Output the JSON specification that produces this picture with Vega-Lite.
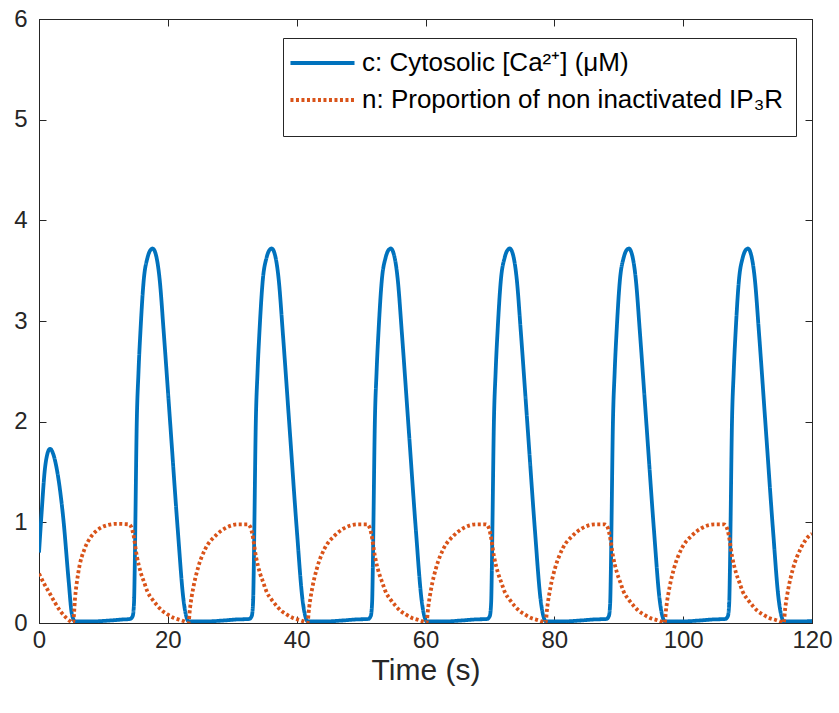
{
  "$schema": "https://vega.github.io/schema/vega-lite/v6.json",
  "width": 773,
  "height": 604,
  "autosize": {"type": "none"},
  "padding": {"left": 39, "top": 19, "right": 27, "bottom": 90},
  "background": "white",
  "config": {
    "font": "Liberation Sans",
    "view": {"stroke": "#262626", "strokeWidth": 1},
    "axis": {
      "domainColor": "#262626",
      "tickColor": "#262626",
      "labelColor": "#262626",
      "titleColor": "#262626",
      "grid": false,
      "labelFont": "Liberation Sans",
      "titleFont": "Liberation Sans",
      "labelFontSize": 24,
      "titleFontSize": 30,
      "titleFontWeight": "normal",
      "tickSize": -7,
      "domainWidth": 1,
      "tickWidth": 1,
      "labelFlush": false,
      "labelOverlap": false
    }
  },
  "data": {
    "values": [
      {"t": 0, "v": 0.70, "s": "c"}, {"t": 0.4, "v": 1.09, "s": "c"}, {"t": 0.9, "v": 1.52, "s": "c"}, {"t": 1.3, "v": 1.68, "s": "c"}, {"t": 1.7, "v": 1.73, "s": "c"}, {"t": 2.2, "v": 1.68, "s": "c"}, {"t": 2.7, "v": 1.55, "s": "c"}, {"t": 3.8, "v": 1.02, "s": "c"}, {"t": 4.6, "v": 0.42, "s": "c"}, {"t": 5.1, "v": 0.09, "s": "c"}, {"t": 5.6, "v": 0.015, "s": "c"}, {"t": 8, "v": 0.015, "s": "c"}, {"t": 11, "v": 0.025, "s": "c"}, {"t": 13, "v": 0.035, "s": "c"},

      {"t": 14.15, "v": 0.04, "s": "c"}, {"t": 14.55, "v": 0.07, "s": "c"}, {"t": 14.75, "v": 0.2, "s": "c"}, {"t": 14.85, "v": 0.5, "s": "c"}, {"t": 14.95, "v": 0.95, "s": "c"}, {"t": 15.15, "v": 1.9, "s": "c"}, {"t": 15.45, "v": 2.5, "s": "c"}, {"t": 15.75, "v": 2.9, "s": "c"}, {"t": 16.25, "v": 3.4, "s": "c"}, {"t": 16.85, "v": 3.63, "s": "c"}, {"t": 17.25, "v": 3.7, "s": "c"}, {"t": 17.65, "v": 3.72, "s": "c"}, {"t": 18.05, "v": 3.68, "s": "c"}, {"t": 18.75, "v": 3.4, "s": "c"}, {"t": 19.35, "v": 2.9, "s": "c"}, {"t": 20.45, "v": 1.91, "s": "c"}, {"t": 21.55, "v": 0.92, "s": "c"}, {"t": 22.45, "v": 0.22, "s": "c"}, {"t": 22.85, "v": 0.07, "s": "c"}, {"t": 23.25, "v": 0.015, "s": "c"}, {"t": 25.65, "v": 0.015, "s": "c"}, {"t": 28.65, "v": 0.025, "s": "c"}, {"t": 30.65, "v": 0.035, "s": "c"},

      {"t": 32.63, "v": 0.04, "s": "c"}, {"t": 33.03, "v": 0.07, "s": "c"}, {"t": 33.23, "v": 0.2, "s": "c"}, {"t": 33.33, "v": 0.5, "s": "c"}, {"t": 33.43, "v": 0.95, "s": "c"}, {"t": 33.63, "v": 1.9, "s": "c"}, {"t": 33.93, "v": 2.5, "s": "c"}, {"t": 34.23, "v": 2.9, "s": "c"}, {"t": 34.73, "v": 3.4, "s": "c"}, {"t": 35.33, "v": 3.63, "s": "c"}, {"t": 35.73, "v": 3.7, "s": "c"}, {"t": 36.13, "v": 3.72, "s": "c"}, {"t": 36.53, "v": 3.68, "s": "c"}, {"t": 37.23, "v": 3.4, "s": "c"}, {"t": 37.83, "v": 2.9, "s": "c"}, {"t": 38.93, "v": 1.91, "s": "c"}, {"t": 40.03, "v": 0.92, "s": "c"}, {"t": 40.93, "v": 0.22, "s": "c"}, {"t": 41.33, "v": 0.07, "s": "c"}, {"t": 41.73, "v": 0.015, "s": "c"}, {"t": 44.13, "v": 0.015, "s": "c"}, {"t": 47.13, "v": 0.025, "s": "c"}, {"t": 49.13, "v": 0.035, "s": "c"},

      {"t": 51.11, "v": 0.04, "s": "c"}, {"t": 51.51, "v": 0.07, "s": "c"}, {"t": 51.71, "v": 0.2, "s": "c"}, {"t": 51.81, "v": 0.5, "s": "c"}, {"t": 51.91, "v": 0.95, "s": "c"}, {"t": 52.11, "v": 1.9, "s": "c"}, {"t": 52.41, "v": 2.5, "s": "c"}, {"t": 52.71, "v": 2.9, "s": "c"}, {"t": 53.21, "v": 3.4, "s": "c"}, {"t": 53.81, "v": 3.63, "s": "c"}, {"t": 54.21, "v": 3.7, "s": "c"}, {"t": 54.61, "v": 3.72, "s": "c"}, {"t": 55.01, "v": 3.68, "s": "c"}, {"t": 55.71, "v": 3.4, "s": "c"}, {"t": 56.31, "v": 2.9, "s": "c"}, {"t": 57.41, "v": 1.91, "s": "c"}, {"t": 58.51, "v": 0.92, "s": "c"}, {"t": 59.41, "v": 0.22, "s": "c"}, {"t": 59.81, "v": 0.07, "s": "c"}, {"t": 60.21, "v": 0.015, "s": "c"}, {"t": 62.61, "v": 0.015, "s": "c"}, {"t": 65.61, "v": 0.025, "s": "c"}, {"t": 67.61, "v": 0.035, "s": "c"},

      {"t": 69.59, "v": 0.04, "s": "c"}, {"t": 69.99, "v": 0.07, "s": "c"}, {"t": 70.19, "v": 0.2, "s": "c"}, {"t": 70.29, "v": 0.5, "s": "c"}, {"t": 70.39, "v": 0.95, "s": "c"}, {"t": 70.59, "v": 1.9, "s": "c"}, {"t": 70.89, "v": 2.5, "s": "c"}, {"t": 71.19, "v": 2.9, "s": "c"}, {"t": 71.69, "v": 3.4, "s": "c"}, {"t": 72.29, "v": 3.63, "s": "c"}, {"t": 72.69, "v": 3.7, "s": "c"}, {"t": 73.09, "v": 3.72, "s": "c"}, {"t": 73.49, "v": 3.68, "s": "c"}, {"t": 74.19, "v": 3.4, "s": "c"}, {"t": 74.79, "v": 2.9, "s": "c"}, {"t": 75.89, "v": 1.91, "s": "c"}, {"t": 76.99, "v": 0.92, "s": "c"}, {"t": 77.89, "v": 0.22, "s": "c"}, {"t": 78.29, "v": 0.07, "s": "c"}, {"t": 78.69, "v": 0.015, "s": "c"}, {"t": 81.09, "v": 0.015, "s": "c"}, {"t": 84.09, "v": 0.025, "s": "c"}, {"t": 86.09, "v": 0.035, "s": "c"},

      {"t": 88.07, "v": 0.04, "s": "c"}, {"t": 88.47, "v": 0.07, "s": "c"}, {"t": 88.67, "v": 0.2, "s": "c"}, {"t": 88.77, "v": 0.5, "s": "c"}, {"t": 88.87, "v": 0.95, "s": "c"}, {"t": 89.07, "v": 1.9, "s": "c"}, {"t": 89.37, "v": 2.5, "s": "c"}, {"t": 89.67, "v": 2.9, "s": "c"}, {"t": 90.17, "v": 3.4, "s": "c"}, {"t": 90.77, "v": 3.63, "s": "c"}, {"t": 91.17, "v": 3.7, "s": "c"}, {"t": 91.57, "v": 3.72, "s": "c"}, {"t": 91.97, "v": 3.68, "s": "c"}, {"t": 92.67, "v": 3.4, "s": "c"}, {"t": 93.27, "v": 2.9, "s": "c"}, {"t": 94.37, "v": 1.91, "s": "c"}, {"t": 95.47, "v": 0.92, "s": "c"}, {"t": 96.37, "v": 0.22, "s": "c"}, {"t": 96.77, "v": 0.07, "s": "c"}, {"t": 97.17, "v": 0.015, "s": "c"}, {"t": 99.57, "v": 0.015, "s": "c"}, {"t": 102.57, "v": 0.025, "s": "c"}, {"t": 104.57, "v": 0.035, "s": "c"},

      {"t": 106.55, "v": 0.04, "s": "c"}, {"t": 106.95, "v": 0.07, "s": "c"}, {"t": 107.15, "v": 0.2, "s": "c"}, {"t": 107.25, "v": 0.5, "s": "c"}, {"t": 107.35, "v": 0.95, "s": "c"}, {"t": 107.55, "v": 1.9, "s": "c"}, {"t": 107.85, "v": 2.5, "s": "c"}, {"t": 108.15, "v": 2.9, "s": "c"}, {"t": 108.65, "v": 3.4, "s": "c"}, {"t": 109.25, "v": 3.63, "s": "c"}, {"t": 109.65, "v": 3.7, "s": "c"}, {"t": 110.05, "v": 3.72, "s": "c"}, {"t": 110.45, "v": 3.68, "s": "c"}, {"t": 111.15, "v": 3.4, "s": "c"}, {"t": 111.75, "v": 2.9, "s": "c"}, {"t": 112.85, "v": 1.91, "s": "c"}, {"t": 113.95, "v": 0.92, "s": "c"}, {"t": 114.85, "v": 0.22, "s": "c"}, {"t": 115.25, "v": 0.07, "s": "c"}, {"t": 115.65, "v": 0.015, "s": "c"}, {"t": 118.05, "v": 0.015, "s": "c"}, {"t": 120, "v": 0.02, "s": "c"},

      {"t": 0, "v": 0.49, "s": "n"}, {"t": 0.8, "v": 0.39, "s": "n"}, {"t": 1.7, "v": 0.29, "s": "n"}, {"t": 2.5, "v": 0.2, "s": "n"}, {"t": 3.3, "v": 0.12, "s": "n"}, {"t": 4.1, "v": 0.06, "s": "n"}, {"t": 4.8, "v": 0.02, "s": "n"}, {"t": 5.3, "v": 0.005, "s": "n"}, {"t": 5.6, "v": 0.25, "s": "n"}, {"t": 6.1, "v": 0.5, "s": "n"}, {"t": 7.1, "v": 0.74, "s": "n"}, {"t": 8.0, "v": 0.85, "s": "n"}, {"t": 9.0, "v": 0.92, "s": "n"}, {"t": 10.5, "v": 0.97, "s": "n"}, {"t": 12, "v": 0.985, "s": "n"},

      {"t": 13.95, "v": 0.98, "s": "n"}, {"t": 14.35, "v": 0.95, "s": "n"}, {"t": 14.65, "v": 0.88, "s": "n"}, {"t": 15.2, "v": 0.66, "s": "n"}, {"t": 15.8, "v": 0.5, "s": "n"}, {"t": 16.35, "v": 0.4, "s": "n"}, {"t": 16.85, "v": 0.31, "s": "n"}, {"t": 17.65, "v": 0.23, "s": "n"}, {"t": 18.4, "v": 0.17, "s": "n"}, {"t": 19.15, "v": 0.12, "s": "n"}, {"t": 19.95, "v": 0.085, "s": "n"}, {"t": 20.95, "v": 0.05, "s": "n"}, {"t": 22.05, "v": 0.028, "s": "n"}, {"t": 22.85, "v": 0.01, "s": "n"}, {"t": 23.2, "v": 0.002, "s": "n"}, {"t": 23.45, "v": 0.15, "s": "n"}, {"t": 23.95, "v": 0.35, "s": "n"}, {"t": 24.65, "v": 0.54, "s": "n"}, {"t": 25.85, "v": 0.74, "s": "n"}, {"t": 27.45, "v": 0.87, "s": "n"}, {"t": 28.85, "v": 0.94, "s": "n"}, {"t": 30.95, "v": 0.98, "s": "n"},

      {"t": 32.43, "v": 0.98, "s": "n"}, {"t": 32.83, "v": 0.95, "s": "n"}, {"t": 33.13, "v": 0.88, "s": "n"}, {"t": 33.68, "v": 0.66, "s": "n"}, {"t": 34.28, "v": 0.5, "s": "n"}, {"t": 34.83, "v": 0.4, "s": "n"}, {"t": 35.33, "v": 0.31, "s": "n"}, {"t": 36.13, "v": 0.23, "s": "n"}, {"t": 36.88, "v": 0.17, "s": "n"}, {"t": 37.63, "v": 0.12, "s": "n"}, {"t": 38.43, "v": 0.085, "s": "n"}, {"t": 39.43, "v": 0.05, "s": "n"}, {"t": 40.53, "v": 0.028, "s": "n"}, {"t": 41.33, "v": 0.01, "s": "n"}, {"t": 41.68, "v": 0.002, "s": "n"}, {"t": 41.93, "v": 0.15, "s": "n"}, {"t": 42.43, "v": 0.35, "s": "n"}, {"t": 43.13, "v": 0.54, "s": "n"}, {"t": 44.33, "v": 0.74, "s": "n"}, {"t": 45.93, "v": 0.87, "s": "n"}, {"t": 47.33, "v": 0.94, "s": "n"}, {"t": 49.43, "v": 0.98, "s": "n"},

      {"t": 50.91, "v": 0.98, "s": "n"}, {"t": 51.31, "v": 0.95, "s": "n"}, {"t": 51.61, "v": 0.88, "s": "n"}, {"t": 52.16, "v": 0.66, "s": "n"}, {"t": 52.76, "v": 0.5, "s": "n"}, {"t": 53.31, "v": 0.4, "s": "n"}, {"t": 53.81, "v": 0.31, "s": "n"}, {"t": 54.61, "v": 0.23, "s": "n"}, {"t": 55.36, "v": 0.17, "s": "n"}, {"t": 56.11, "v": 0.12, "s": "n"}, {"t": 56.91, "v": 0.085, "s": "n"}, {"t": 57.91, "v": 0.05, "s": "n"}, {"t": 59.01, "v": 0.028, "s": "n"}, {"t": 59.81, "v": 0.01, "s": "n"}, {"t": 60.16, "v": 0.002, "s": "n"}, {"t": 60.41, "v": 0.15, "s": "n"}, {"t": 60.91, "v": 0.35, "s": "n"}, {"t": 61.61, "v": 0.54, "s": "n"}, {"t": 62.81, "v": 0.74, "s": "n"}, {"t": 64.41, "v": 0.87, "s": "n"}, {"t": 65.81, "v": 0.94, "s": "n"}, {"t": 67.91, "v": 0.98, "s": "n"},

      {"t": 69.39, "v": 0.98, "s": "n"}, {"t": 69.79, "v": 0.95, "s": "n"}, {"t": 70.09, "v": 0.88, "s": "n"}, {"t": 70.64, "v": 0.66, "s": "n"}, {"t": 71.24, "v": 0.5, "s": "n"}, {"t": 71.79, "v": 0.4, "s": "n"}, {"t": 72.29, "v": 0.31, "s": "n"}, {"t": 73.09, "v": 0.23, "s": "n"}, {"t": 73.84, "v": 0.17, "s": "n"}, {"t": 74.59, "v": 0.12, "s": "n"}, {"t": 75.39, "v": 0.085, "s": "n"}, {"t": 76.39, "v": 0.05, "s": "n"}, {"t": 77.49, "v": 0.028, "s": "n"}, {"t": 78.29, "v": 0.01, "s": "n"}, {"t": 78.64, "v": 0.002, "s": "n"}, {"t": 78.89, "v": 0.15, "s": "n"}, {"t": 79.39, "v": 0.35, "s": "n"}, {"t": 80.09, "v": 0.54, "s": "n"}, {"t": 81.29, "v": 0.74, "s": "n"}, {"t": 82.89, "v": 0.87, "s": "n"}, {"t": 84.29, "v": 0.94, "s": "n"}, {"t": 86.39, "v": 0.98, "s": "n"},

      {"t": 87.87, "v": 0.98, "s": "n"}, {"t": 88.27, "v": 0.95, "s": "n"}, {"t": 88.57, "v": 0.88, "s": "n"}, {"t": 89.12, "v": 0.66, "s": "n"}, {"t": 89.72, "v": 0.5, "s": "n"}, {"t": 90.27, "v": 0.4, "s": "n"}, {"t": 90.77, "v": 0.31, "s": "n"}, {"t": 91.57, "v": 0.23, "s": "n"}, {"t": 92.32, "v": 0.17, "s": "n"}, {"t": 93.07, "v": 0.12, "s": "n"}, {"t": 93.87, "v": 0.085, "s": "n"}, {"t": 94.87, "v": 0.05, "s": "n"}, {"t": 95.97, "v": 0.028, "s": "n"}, {"t": 96.77, "v": 0.01, "s": "n"}, {"t": 97.12, "v": 0.002, "s": "n"}, {"t": 97.37, "v": 0.15, "s": "n"}, {"t": 97.87, "v": 0.35, "s": "n"}, {"t": 98.57, "v": 0.54, "s": "n"}, {"t": 99.77, "v": 0.74, "s": "n"}, {"t": 101.37, "v": 0.87, "s": "n"}, {"t": 102.77, "v": 0.94, "s": "n"}, {"t": 104.87, "v": 0.98, "s": "n"},

      {"t": 106.35, "v": 0.98, "s": "n"}, {"t": 106.75, "v": 0.95, "s": "n"}, {"t": 107.05, "v": 0.88, "s": "n"}, {"t": 107.6, "v": 0.66, "s": "n"}, {"t": 108.2, "v": 0.5, "s": "n"}, {"t": 108.75, "v": 0.4, "s": "n"}, {"t": 109.25, "v": 0.31, "s": "n"}, {"t": 110.05, "v": 0.23, "s": "n"}, {"t": 110.8, "v": 0.17, "s": "n"}, {"t": 111.55, "v": 0.12, "s": "n"}, {"t": 112.35, "v": 0.085, "s": "n"}, {"t": 113.35, "v": 0.05, "s": "n"}, {"t": 114.45, "v": 0.028, "s": "n"}, {"t": 115.25, "v": 0.01, "s": "n"}, {"t": 115.6, "v": 0.002, "s": "n"}, {"t": 115.85, "v": 0.15, "s": "n"}, {"t": 116.35, "v": 0.35, "s": "n"}, {"t": 117.05, "v": 0.54, "s": "n"}, {"t": 118.25, "v": 0.74, "s": "n"}, {"t": 119.85, "v": 0.88, "s": "n"}, {"t": 120, "v": 0.885, "s": "n"}
    ]
  },
  "resolve": {"axis": {"x": "independent", "y": "independent"}},
  "layer": [
    {
      "mark": {"type": "line", "strokeWidth": 3.8, "clip": true, "strokeCap": "butt", "strokeJoin": "round", "interpolate": "monotone"},
      "encoding": {
        "x": {
          "field": "t", "type": "quantitative",
          "scale": {"domain": [0, 120], "nice": false, "zero": false},
          "axis": {"title": "Time (s)", "values": [0, 20, 40, 60, 80, 100, 120], "labelPadding": 12, "titlePadding": 3, "orient": "bottom"}
        },
        "y": {
          "field": "v", "type": "quantitative",
          "scale": {"domain": [0, 6], "nice": false},
          "axis": {"title": null, "values": [0, 1, 2, 3, 4, 5, 6], "labelPadding": 19, "orient": "left"}
        },
        "color": {
          "field": "s", "type": "nominal",
          "scale": {"domain": ["c", "n"], "range": ["#0072BD", "#D95319"]},
          "legend": {
            "title": "\u00a0",
            "titleOrient": "bottom",
            "titleFontSize": 12,
            "titlePadding": 0,
            "orient": "none",
            "legendX": 244,
            "legendY": 19,
            "labelExpr": "datum.value === 'c' ? 'c: Cytosolic [Ca²⁺] (μM)' : 'n: Proportion of non inactivated IP₃R\u00a0\u00a0\u00a0'",
            "labelFontSize": 26,
            "labelFont": "Liberation Sans",
            "labelColor": "#000000",
            "labelLimit": 800,
            "symbolType": "M-1.67,0H4.43",
            "symbolSize": 441,
            "symbolStrokeWidth": 3.8,
            "strokeColor": "#262626",
            "fillColor": "white",
            "padding": 12,
            "rowPadding": 11,
            "labelOffset": 41
          }
        },
        "strokeDash": {
          "field": "s", "type": "nominal",
          "scale": {"domain": ["c", "n"], "range": [[1, 0], [3, 2.5]]},
          "legend": null
        }
      }
    },
    {
      "mark": {"type": "line", "opacity": 0},
      "encoding": {
        "x": {
          "field": "t", "type": "quantitative",
          "axis": {"orient": "top", "labels": false, "title": null, "values": [0, 20, 40, 60, 80, 100, 120]}
        },
        "y": {
          "field": "v", "type": "quantitative",
          "axis": {"orient": "right", "labels": false, "title": null, "values": [0, 1, 2, 3, 4, 5, 6]}
        },
        "detail": {"field": "s", "type": "nominal"}
      }
    }
  ]
}
